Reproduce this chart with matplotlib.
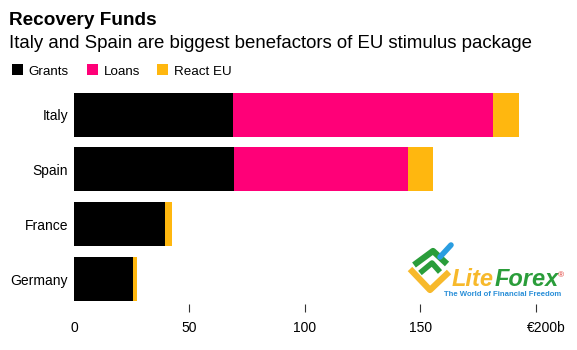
import matplotlib.pyplot as plt
from matplotlib.patches import Rectangle
from matplotlib.transforms import ScaledTranslation

plt.rcParams['font.family'] = ['Liberation Sans', 'DejaVu Sans']

countries = ['Italy', 'Spain', 'France', 'Germany']
grants = [68.9, 69.3, 39.4, 25.4]
loans = [112.5, 75.3, 0.0, 0.0]
react_eu = [11.4, 10.8, 2.9, 2.0]
series_names = ['Grants', 'Loans', 'React EU']
colors = ['#000000', '#ff0078', '#ffb70f']
xticks = [0, 50, 100, 150, 200]
xtick_labels = ['0', '50', '100', '150', '€200b']

W, H = 577, 350
fig = plt.figure(figsize=(W / 100, H / 100), dpi=100)
ax = fig.add_axes([74 / W, 1 - 304 / H, (545 - 74) / W, 216.8 / H])

y = list(range(len(countries)))
left = [0.0] * len(countries)
for vals, name, col in zip([grants, loans, react_eu], series_names, colors):
    ax.barh(y, vals, left=left, height=0.8, color=col, label=name, linewidth=0)
    left = [a + b for a, b in zip(left, vals)]

ax.set_xlim(0, 203.9)
ax.set_ylim(3.456, -0.5)
ax.set_yticks(y)
ax.set_yticklabels(countries, fontsize=10)
ax.set_xticks(xticks)
ax.set_xticklabels(xtick_labels, fontsize=10)
ax.tick_params(axis='y', length=0, pad=4.3)
ax.tick_params(axis='x', length=5.8, width=0.8, color='#333333', pad=6.5)
for s in ax.spines.values():
    s.set_visible(False)
# no tick mark at zero
ax.xaxis.get_major_ticks()[0].tick1line.set_visible(False)
# last label sits a bit right of its tick, as in the original
lab = ax.get_xticklabels()[-1]
lab.set_transform(lab.get_transform() + ScaledTranslation(10 / 100, 0, fig.dpi_scale_trans))

# titles
fig.text(9 / W, 1 - 25 / H, 'Recovery Funds', fontsize=13.7, fontweight='bold', va='baseline')
fig.text(9 / W, 1 - 47.7 / H, 'Italy and Spain are biggest benefactors of EU stimulus package',
         fontsize=13.4, va='baseline')

# legend
leg_x = [12, 87, 157]
for lx, name, col in zip(leg_x, series_names, colors):
    fig.patches.append(Rectangle((lx / W, 1 - 75 / H), 10.5 / W, 10.5 / H,
                                 transform=fig.transFigure, color=col, linewidth=0))
    fig.text((lx + 16.5) / W, 1 - 74.7 / H, name, fontsize=9.6, va='baseline')

# LiteForex watermark
def fx(px):
    return px / W

def fy(py):
    return 1 - py / H

fig.add_artist(plt.Line2D([fx(410), fx(430), fx(449)], [fy(269), fy(290), fy(272)],
                          color='#f7b92b', linewidth=4.5, solid_capstyle='butt'))
fig.add_artist(plt.Line2D([fx(414), fx(433), fx(447)], [fy(265), fy(251), fy(264)],
                          color='#2a9d3a', linewidth=4.5, solid_capstyle='butt'))
fig.add_artist(plt.Line2D([fx(420), fx(432), fx(440)], [fy(273), fy(263), fy(272)],
                          color='#2a9d3a', linewidth=4, solid_capstyle='butt'))
fig.add_artist(plt.Line2D([fx(440), fx(451)], [fy(257), fy(245)],
                          color='#2a9de0', linewidth=4, solid_capstyle='round'))
fig.text(fx(452), fy(286.5), 'Lite', fontsize=17, fontweight='bold', style='italic',
         color='#f7b92b', va='baseline')
fig.text(fx(495), fy(286.5), 'Forex', fontsize=17, fontweight='bold', style='italic',
         color='#2a9d3a', va='baseline')
fig.text(fx(558), fy(277), '®', fontsize=6, color='#e0302a', va='baseline')
fig.text(fx(444), fy(296), 'The World of Financial Freedom', fontsize=5.6, fontweight='bold',
         color='#2a8fd8', va='baseline')

fig.savefig('out.png', dpi=100)
